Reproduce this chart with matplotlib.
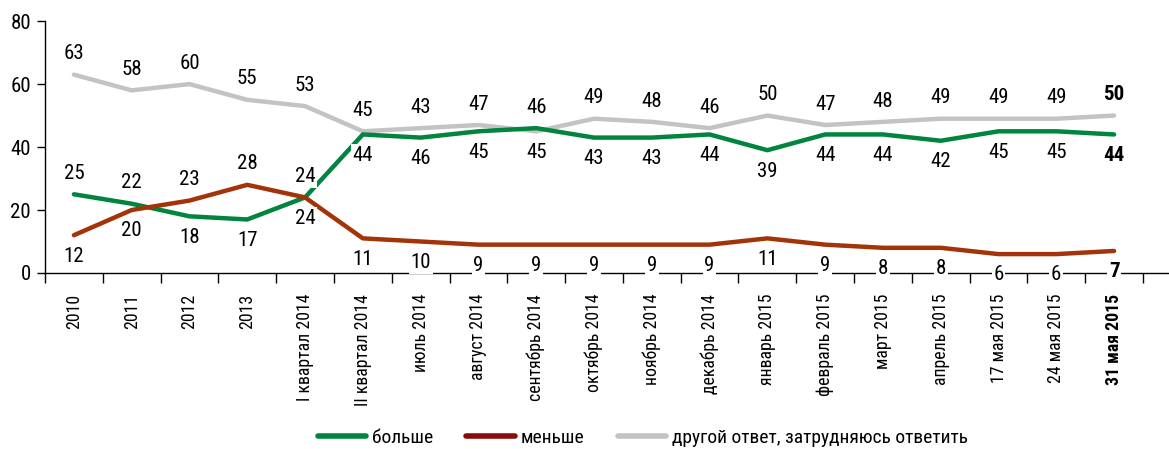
import matplotlib
matplotlib.use("Agg")
import matplotlib.pyplot as plt
import numpy as np
from matplotlib import font_manager

# categories and series
categories = ["2010", "2011", "2012", "2013", "I квартал 2014", "II квартал 2014",
              "июль 2014", "август 2014", "сентябрь 2014", "октябрь 2014",
              "ноябрь 2014", "декабрь 2014", "январь 2015", "февраль 2015",
              "март 2015", "апрель 2015", "17 мая 2015", "24 мая 2015", "31 мая 2015"]
more = [25, 22, 18, 17, 24, 44, 43, 45, 46, 43, 43, 44, 39, 44, 44, 42, 45, 45, 44]
less = [12, 20, 23, 28, 24, 11, 10, 9, 9, 9, 9, 9, 11, 9, 8, 8, 6, 6, 7]
other = [63, 58, 60, 55, 53, 45, 46, 47, 45, 49, 48, 46, 50, 47, 48, 49, 49, 49, 50]

# labels as printed on the chart
more_labels = ["25", "22", "18", "17", "24", "44", "46", "45", "46", "43", "43", "44",
               "39", "44", "44", "42", "45", "45", "44"]
less_labels = ["12", "20", "23", "28", "24", "11", "10", "9", "9", "9", "9", "9",
               "11", "9", "8", "8", "6", "6", "7"]
other_labels = ["63", "58", "60", "55", "53", "45", "43", "47", "45", "49", "48", "46",
                "50", "47", "48", "49", "49", "49", "50"]
# where each label sits relative to its line (+1 above, -1 below)
more_side = [1, 1, -1, -1, 1] + [-1] * 14
less_side = [-1, -1, 1, 1, -1] + [-1] * 14
other_side = [1] * 19
# september: green label above, grey below
more_side[8] = 1
other_side[8] = -1

names = ["больше", "меньше", "другой ответ, затрудняюсь ответить"]

avail = {f.name for f in font_manager.fontManager.ttflist}
fam = [f for f in ["Roboto Condensed", "Liberation Sans Narrow", "Roboto", "DejaVu Sans"]
       if f in avail]
plt.rcParams["font.family"] = fam

GREEN = "#00843e"
RED = "#a3340a"
GREY = "#c3c3c3"

fig = plt.figure(figsize=(11.69, 4.49), dpi=100)
ax = fig.add_axes([0.0385, 0.392, 0.9615, 0.561])

x = np.arange(len(categories))
ax.plot(x, other, color=GREY, lw=3.2, solid_capstyle="round", zorder=2)
ax.plot(x, more, color=GREEN, lw=3.2, solid_capstyle="round", zorder=2)
ax.plot(x, less, color=RED, lw=3.2, solid_capstyle="round", zorder=2)

last = len(categories) - 1

for vals, labs, sides in [(other, other_labels, other_side),
                          (more, more_labels, more_side),
                          (less, less_labels, less_side)]:
    for i in x:
        w = "bold" if i == last else "normal"
        # white patch so labels sitting on the x axis break the line
        ax.annotate(labs[i], (i, vals[i]), xytext=(0, 15 * sides[i]),
                    textcoords="offset points", ha="center", va="center",
                    fontsize=15, fontweight=w, zorder=4,
                    bbox=dict(boxstyle="square,pad=0.08", fc="white", ec="none"))

ax.set_xlim(-0.5, 18.95)
ax.set_ylim(0, 80)
ax.set_yticks([0, 20, 40, 60, 80])
ax.tick_params(axis="y", labelsize=15, length=6, width=1, pad=4)

ax.set_xticks(x)
ax.set_xticklabels(categories, rotation=90, fontsize=12.8)
ax.set_xticks(np.arange(-0.5, 18.6, 1), minor=True)
ax.tick_params(axis="x", which="major", length=0, pad=15)
ax.tick_params(axis="x", which="minor", length=7, width=1)
ax.get_xticklabels()[-1].set_fontweight("bold")

for s in ["top", "right"]:
    ax.spines[s].set_visible(False)
for s in ["left", "bottom"]:
    ax.spines[s].set_linewidth(1)

handles = [plt.Line2D([], [], color=GREEN, lw=4, solid_capstyle="round"),
           plt.Line2D([], [], color="#8b0a0a", lw=4, solid_capstyle="round"),
           plt.Line2D([], [], color=GREY, lw=4, solid_capstyle="round")]
fig.legend(handles, names, loc="center", bbox_to_anchor=(0.55, 0.025), ncol=3,
           frameon=False, fontsize=14, handlelength=2.5, handletextpad=0.3,
           columnspacing=1.7)

fig.savefig("out.png", dpi=100)
